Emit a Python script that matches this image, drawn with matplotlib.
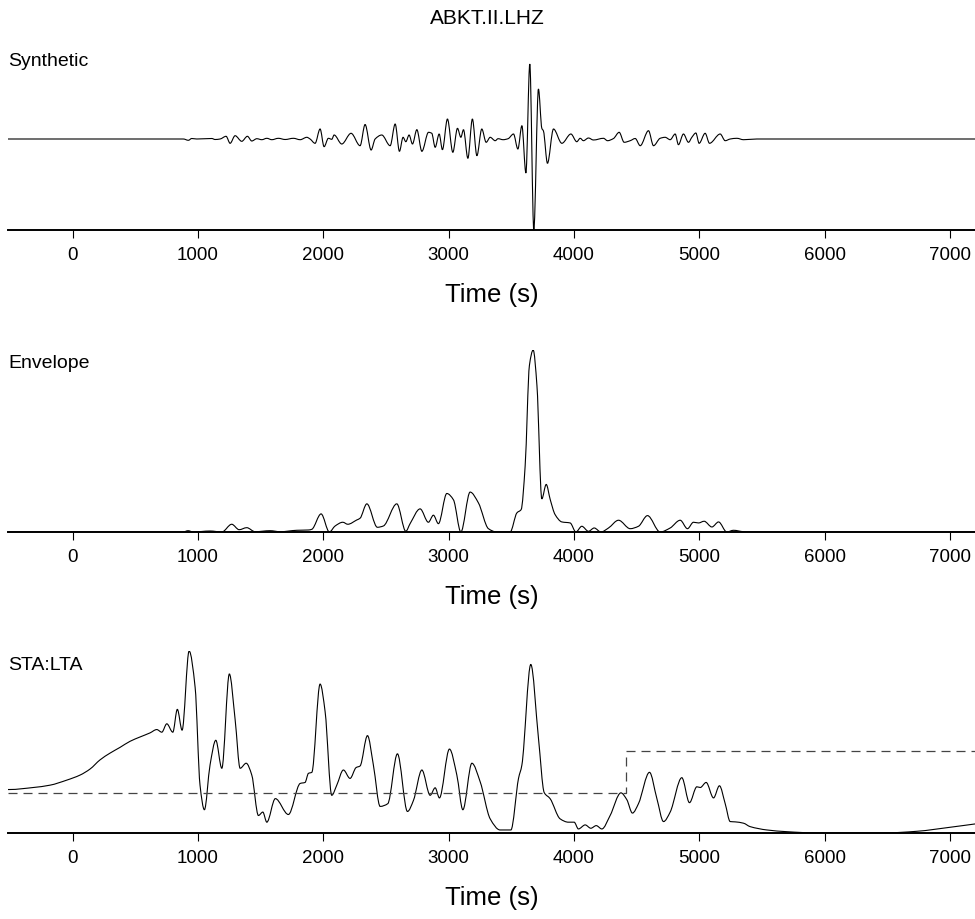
import matplotlib
matplotlib.use("Agg")
import matplotlib.pyplot as plt
from matplotlib.path import Path
from matplotlib.patches import PathPatch

plt.rcParams['font.family'] = ['Liberation Sans', 'DejaVu Sans']
plt.rcParams['lines.scale_dashes'] = False

station = "ABKT.II.LHZ"
panel_names = ["Synthetic", "Envelope", "STA:LTA"]
xticks = [0, 1000, 2000, 3000, 4000, 5000, 6000, 7000]
xlims = (-515, 7200)

# synthetic seismogram (relative amplitude)
syn_t = [-515, 884, 924, 951, 991, 1111, 1137, 1177, 1225, 1257, 1297, 1350,
         1395, 1430, 1470, 1510, 1550, 1590, 1642, 1696, 1762, 1816, 1869,
         1895, 1935, 1975, 2007, 2041, 2068, 2087, 2148, 2222, 2294, 2334,
         2382, 2414, 2467, 2534, 2574, 2608, 2637, 2659, 2685, 2712, 2747,
         2787, 2840, 2866, 2893, 2925, 2951, 2991, 3034, 3071, 3098, 3119,
         3154, 3190, 3226, 3265, 3300, 3332, 3372, 3395, 3435, 3475, 3518,
         3553, 3585, 3617, 3648, 3680, 3717, 3744, 3757, 3789, 3837, 3904,
         3976, 4023, 4050, 4076, 4116, 4156, 4236, 4268, 4316, 4361, 4401,
         4449, 4489, 4529, 4595, 4635, 4688, 4728, 4768, 4808, 4834, 4874,
         4914, 4941, 4973, 4999, 5047, 5082, 5167, 5207, 5247, 5300, 5353,
         5460, 7200]
syn_a = [0, 0, -1.3, 0.5, 0, 0.5, -0.5, 0, 2.7, -4.3, 3.3, -2.3,
         2.7, -2, 0.3, -0.7, 0.7, -0.7, 0.7, -0.5, 0.7, -0.7, 1.7,
         0, -4.3, 10, -7.7, 0.7, -0.3, 4, -5, 5.7, -6.7, 14.5,
         -11, 0, 4, -6.7, 15, -12.3, 1.7, -2.7, 4, -5, 9.3,
         -12.3, 6.7, 5.7, -8.3, 5, -10.7, 20, -13.3, 10.7, 1.7, 9.3,
         -19.3, 20, -16.7, 10, -3.3, 1.7, -1.7, 0.3, -0.7, 0.3, 5,
         -10, 13.3, -34, 75, -91, 50, 10.7, 8, -24.3, 10, -4.3,
         5, -2.7, 0.7, -1.7, 1, -1, 0.7, -1.7, 0.5, 6.7, -3.3,
         -1.7, 0.5, -6.7, 8.3, -6.7, 0.7, 1.7, -0.7, 5, -5.7, 5,
         -3.3, 1.7, 6, -4.3, 5.7, -4.3, 5, -1.7, 0, 0.7, -0.7,
         0, 0]

# envelope
env_t = [-515, 882, 922, 962, 1097, 1191, 1270, 1329, 1390, 1456, 1576, 1656,
         1789, 1882, 1909, 1983, 2049, 2095, 2156, 2196, 2268, 2294, 2348,
         2432, 2480, 2587, 2659, 2693, 2773, 2839, 2879, 2919, 2986, 3039,
         3098, 3172, 3238, 3318, 3385, 3491, 3545, 3579, 3611, 3645, 3675,
         3705, 3744, 3779, 3811, 3850, 3904, 3970, 4016, 4063, 4116, 4162,
         4215, 4276, 4356, 4449, 4515, 4587, 4688, 4768, 4848, 4906, 4954,
         4994, 5039, 5101, 5154, 5220, 5273, 5353, 5406, 7200]
env_a = [0, 0, 1.3, 0, 1, 0, 7.7, 2.3, 4.3, 0.3, 1.3, 0.3,
         1.7, 2, 2.7, 18, 0, 6, 9.7, 7.7, 12, 13.7, 28,
         4.7, 6, 28, 0.7, 8.3, 23, 9.7, 16.7, 8.3, 38.3, 32,
         0, 39.7, 29, 3.3, 0, 0, 19, 22.3, 65.7, 165.7, 181,
         145.7, 33, 47.3, 32.3, 17.3, 10, 9, 0, 5.7, 0.7, 4,
         0, 4, 11.7, 3.3, 5.7, 16.3, 0, 4, 11.7, 3.3, 9.7,
         9, 10.7, 5, 10, 0, 1.7, 0.3, 0, 0]

# STA:LTA ratio and trigger level
sta_t = [-515, -504, -313, -180, -46, 60, 140, 219, 299, 379, 459, 539, 618,
         672, 712, 752, 800, 836, 874, 930, 978, 1017, 1052, 1097, 1143,
         1191, 1251, 1297, 1337, 1385, 1430, 1483, 1518, 1550, 1618, 1722,
         1816, 1855, 1882, 1909, 1975, 2015, 2068, 2108, 2161, 2214, 2262,
         2294, 2353, 2400, 2454, 2515, 2592, 2672, 2720, 2787, 2853, 2893,
         2927, 3007, 3066, 3114, 3186, 3252, 3332, 3411, 3497, 3558, 3585,
         3656, 3717, 3763, 3810, 3890, 3956, 4002, 4036, 4090, 4135, 4178,
         4223, 4289, 4375, 4422, 4467, 4515, 4603, 4662, 4715, 4768, 4861,
         4922, 4981, 5008, 5055, 5114, 5161, 5207, 5247, 5287, 5353, 5406,
         5540, 5699, 5939, 6205, 6470, 6737, 7003, 7203]
sta_a = [43, 43, 45, 47.3, 52.3, 57.3, 63.3, 72.3, 79, 84.7, 90.7, 95, 99,
         102.3, 99.7, 108, 99.7, 122.3, 101.7, 180, 144, 47.3, 23, 67.3, 91.7,
         64, 157.3, 112.3, 64, 69, 57.3, 17.3, 20.7, 10.7, 34, 18.3,
         49, 50, 59, 60, 147.3, 120, 37.3, 47.3, 62.3, 54, 64.7,
         66.3, 96.3, 67.3, 26.3, 29, 78.3, 21.3, 32.3, 62.3, 37.3, 44.7,
         34.7, 83, 57.3, 23, 69, 50.7, 14, 3, 3, 54, 67.3,
         166.7, 94, 40, 34, 14, 10.7, 10.7, 4, 8, 4.7, 7.3,
         4, 17.3, 39.7, 33, 19.7, 29, 60, 34, 11.3, 20.7, 54.7,
         30, 45.7, 45, 50, 34.7, 46.7, 29, 11.3, 11, 9.7, 6.3,
         3, 1.3, 0, 0, 0, 1.7, 5.7, 9]
trig_t = [-515, 4417, 4417, 7200]
trig_a = [40, 40, 81.3, 81.3]


def smooth_trace(ax, t, a, **kw):
    """draw the read points joined by monotone cubic (bezier) pieces"""
    n = len(t)
    d = [(a[i + 1] - a[i]) / (t[i + 1] - t[i]) for i in range(n - 1)]
    m = [0.0] * n
    m[0], m[-1] = d[0], d[-1]
    for i in range(1, n - 1):
        if d[i - 1] * d[i] > 0:
            m[i] = 2.0 / (1.0 / d[i - 1] + 1.0 / d[i])
    verts = [(t[0], a[0])]
    codes = [Path.MOVETO]
    for i in range(n - 1):
        h = t[i + 1] - t[i]
        verts += [(t[i] + h / 3, a[i] + m[i] * h / 3),
                  (t[i + 1] - h / 3, a[i + 1] - m[i + 1] * h / 3),
                  (t[i + 1], a[i + 1])]
        codes += [Path.CURVE4] * 3
    ax.add_patch(PathPatch(Path(verts, codes), fill=False, **kw))


fig = plt.figure(figsize=(9.75, 9.2), dpi=100)
W, H = 975.0, 920.0
left = 8 / W
width = 1 - left
axis_y = [231, 533, 834]   # pixel row of each time axis
ph = 182

ylims = [(-91, 91), (0, 181), (0, 180)]
axes = []
for i in range(3):
    ax = fig.add_axes([left, 1 - axis_y[i] / H, width, ph / H])
    for s in ['top', 'right', 'left']:
        ax.spines[s].set_visible(False)
    ax.spines['bottom'].set_linewidth(1.4)
    ax.set_xlim(*xlims)
    ax.set_ylim(*ylims[i])
    ax.set_yticks([])
    ax.set_xticks(xticks)
    ax.set_xticklabels([str(v) for v in xticks])
    ax.tick_params(axis='x', direction='out', length=5.5, width=0.8,
                   labelsize=13.5, pad=6)
    ax.set_xlabel("Time (s)", fontsize=18.5, labelpad=14)
    ax.text(0.0, 1 - 13 / ph, panel_names[i], transform=ax.transAxes,
            ha='left', va='center', fontsize=14)
    axes.append(ax)

smooth_trace(axes[0], syn_t, syn_a, edgecolor='black', lw=0.8)
smooth_trace(axes[1], env_t, env_a, edgecolor='black', lw=0.8)
smooth_trace(axes[2], sta_t, sta_a, edgecolor='black', lw=0.8)
axes[2].plot(trig_t, trig_a, color='#444444', lw=0.9, dashes=(6.5, 4.3))

fig.text(0.5, 1 - 19 / H, station, ha='center', va='center', fontsize=15)

fig.savefig("out.png", dpi=100)
